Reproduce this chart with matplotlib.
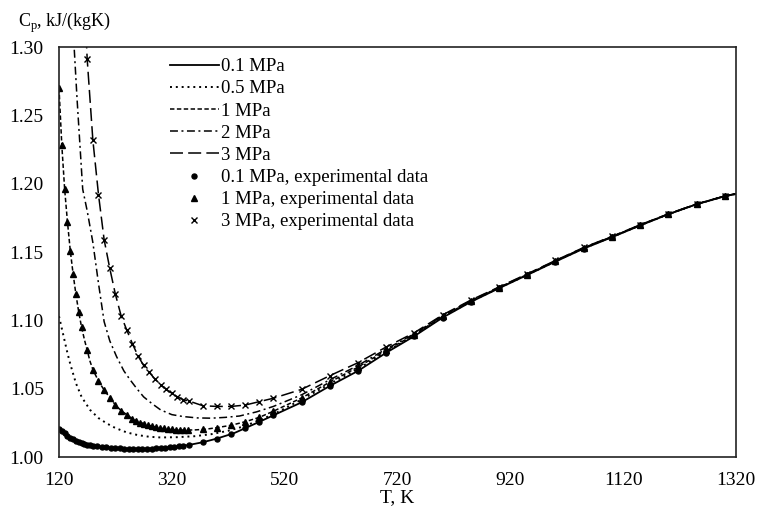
import matplotlib
matplotlib.use("Agg")
import matplotlib.pyplot as plt

plt.rcParams['font.family'] = ['Liberation Serif', 'DejaVu Serif']
plt.rcParams['mathtext.fontset'] = 'custom'
plt.rcParams['mathtext.rm'] = 'Liberation Serif'

# calculated curves, T in K, Cp in kJ/(kgK)
t_01 = [120, 130, 140, 150, 160, 175, 190, 210, 230, 250, 270, 290, 310, 330, 350,
        375, 400, 430, 475, 500, 550, 600, 650, 700, 750, 800, 850, 900, 950, 1000,
        1050, 1100, 1150, 1200, 1250, 1300, 1320]
cp_01 = [1.0203, 1.0172, 1.0142, 1.0118, 1.0100, 1.0085, 1.0076, 1.0068, 1.0063, 1.0060,
         1.0060, 1.0063, 1.0069, 1.0077, 1.0088, 1.0108, 1.0135, 1.0174, 1.0257, 1.0305,
         1.0400, 1.0520, 1.0630, 1.0763, 1.0885, 1.1020, 1.1135, 1.1235, 1.1332, 1.1430,
         1.1525, 1.1608, 1.1694, 1.1776, 1.1849, 1.1908, 1.1925]

t_05 = [120, 125, 130, 135, 140, 150, 160, 175, 190, 205, 220, 240, 260, 280, 300, 330,
        360, 390, 420, 450, 500, 550, 600, 650, 700, 750, 800, 850, 900, 950, 1000, 1050,
        1100, 1150, 1200, 1250, 1300, 1320]
cp_05 = [1.103, 1.094, 1.085, 1.076, 1.068, 1.054, 1.044, 1.0345, 1.0285, 1.0245, 1.0212,
         1.0180, 1.0160, 1.0148, 1.0143, 1.0145, 1.0152, 1.0167, 1.0192, 1.0227, 1.0312,
         1.0420, 1.0535, 1.0645, 1.0770, 1.0890, 1.1025, 1.1138, 1.1237, 1.1333, 1.1432,
         1.1527, 1.1609, 1.1695, 1.1776, 1.1849, 1.1908, 1.1925]

t_1 = [120, 125, 130, 135, 140, 145, 150, 155, 160, 165, 170, 175, 180, 190, 200, 210,
       220, 230, 240, 250, 260, 270, 280, 290, 300, 320, 340, 360, 380, 400, 425, 450,
       475, 500, 550, 600, 650, 700, 750, 800, 850, 900, 950, 1000, 1050, 1100, 1150,
       1200, 1250, 1300, 1320]
cp_1 = [1.270, 1.228, 1.196, 1.172, 1.151, 1.134, 1.119, 1.106, 1.095, 1.086, 1.078,
        1.070, 1.064, 1.0555, 1.049, 1.0435, 1.038, 1.034, 1.031, 1.028, 1.026, 1.0245,
        1.023, 1.022, 1.021, 1.0200, 1.0197, 1.0198, 1.0203, 1.0215, 1.0232, 1.0258,
        1.0290, 1.0335, 1.0432, 1.0548, 1.0658, 1.0780, 1.0895, 1.1030, 1.1141, 1.1239,
        1.1335, 1.1434, 1.1529, 1.1610, 1.1696, 1.1777, 1.1850, 1.1909, 1.1926]

t_2 = [140, 146, 152, 162, 170, 180, 190, 200, 210, 222, 235, 246, 258, 270, 285, 300,
       320, 340, 365, 390, 415, 440, 470, 500, 550, 600, 650, 700, 750, 800, 850, 900,
       950, 1000, 1050, 1100, 1150, 1200, 1250, 1300, 1320]
cp_2 = [1.345, 1.306, 1.262, 1.196, 1.180, 1.157, 1.127, 1.099, 1.085, 1.0735, 1.063,
        1.0565, 1.050, 1.044, 1.039, 1.0345, 1.031, 1.0296, 1.0286, 1.0284, 1.0290,
        1.0300, 1.0330, 1.0370, 1.0455, 1.0565, 1.0670, 1.0790, 1.0902, 1.1035, 1.1144,
        1.1241, 1.1337, 1.1436, 1.1531, 1.1612, 1.1697, 1.1778, 1.1850, 1.1909, 1.1926]

t_3 = [165, 170, 180, 190, 200, 210, 220, 230, 240, 250, 260, 270, 280, 290, 300, 310,
       320, 330, 340, 350, 375, 400, 425, 450, 475, 500, 550, 600, 650, 700, 750, 800,
       850, 900, 950, 1000, 1050, 1100, 1150, 1200, 1250, 1300, 1320]
cp_3 = [1.335, 1.291, 1.232, 1.192, 1.159, 1.138, 1.119, 1.1035, 1.093, 1.083, 1.074,
        1.067, 1.062, 1.057, 1.053, 1.0495, 1.0465, 1.044, 1.042, 1.041, 1.0375, 1.037,
        1.037, 1.038, 1.0405, 1.043, 1.0495, 1.0595, 1.069, 1.0805, 1.0910, 1.1040,
        1.1148, 1.1244, 1.1340, 1.1438, 1.1533, 1.1614, 1.1699, 1.1779, 1.1851, 1.1910,
        1.1927]

# experimental data
t_ex01 = [120, 125, 130, 135, 140, 145, 150, 155, 160, 165, 170, 175, 180, 188, 196, 204,
          212, 220, 228, 236, 244, 252, 260, 268, 276, 284, 292, 300, 308, 316, 324, 332,
          340, 350, 375, 400, 425, 450, 475, 500, 550, 600, 650, 700, 750, 800, 850, 900,
          950, 1000, 1050, 1100, 1150, 1200, 1250, 1300]
cp_ex01 = [1.0203, 1.0187, 1.0172, 1.0157, 1.0142, 1.0130, 1.0118, 1.0109, 1.0100, 1.0094,
           1.0090, 1.0085, 1.0081, 1.0077, 1.0073, 1.0070, 1.0068, 1.0066, 1.0064, 1.0062,
           1.0061, 1.0060, 1.0060, 1.0060, 1.0061, 1.0062, 1.0063, 1.0065, 1.0068, 1.0071,
           1.0074, 1.0077, 1.0081, 1.0088, 1.0108, 1.0135, 1.0168, 1.0212, 1.0257, 1.0305,
           1.0400, 1.0520, 1.0630, 1.0763, 1.0885, 1.1020, 1.1135, 1.1235, 1.1332, 1.1430,
           1.1525, 1.1608, 1.1694, 1.1776, 1.1849, 1.1908]

t_ex1 = [120, 125, 130, 135, 140, 145, 150, 155, 160, 170, 180, 190, 200, 210, 220, 230,
         240, 250, 257, 264, 271, 278, 285, 292, 299, 306, 313, 320, 327, 334, 341, 348,
         375, 400, 425, 450, 475, 500, 550, 600, 650, 700, 750, 800, 850, 900, 950, 1000,
         1050, 1100, 1150, 1200, 1250, 1300]
cp_ex1 = [1.270, 1.228, 1.196, 1.172, 1.151, 1.134, 1.119, 1.106, 1.095, 1.078, 1.064,
          1.0555, 1.049, 1.0435, 1.038, 1.034, 1.031, 1.028, 1.0265, 1.0252, 1.0242,
          1.0234, 1.0227, 1.0221, 1.0215, 1.0211, 1.0207, 1.0203, 1.0200, 1.0198, 1.0197,
          1.0197, 1.0205, 1.0215, 1.0232, 1.0258, 1.0290, 1.0335, 1.0432, 1.0548, 1.0658,
          1.0780, 1.0895, 1.1030, 1.1141, 1.1239, 1.1335, 1.1434, 1.1529, 1.1610, 1.1696,
          1.1777, 1.1850, 1.1909]

t_ex3 = [170, 180, 190, 200, 210, 220, 230, 240, 250, 260, 270, 280, 290, 300, 310, 320,
         330, 340, 350, 375, 400, 425, 450, 475, 500, 550, 600, 650, 700, 750, 800, 850,
         900, 950, 1000, 1050, 1100, 1150, 1200, 1250, 1300]
cp_ex3 = [1.291, 1.232, 1.192, 1.159, 1.138, 1.119, 1.1035, 1.093, 1.083, 1.074, 1.067,
          1.062, 1.057, 1.053, 1.0495, 1.0465, 1.044, 1.042, 1.041, 1.0375, 1.037, 1.037,
          1.038, 1.0405, 1.043, 1.0495, 1.0595, 1.069, 1.0805, 1.0910, 1.1040, 1.1148,
          1.1244, 1.1340, 1.1438, 1.1533, 1.1614, 1.1699, 1.1779, 1.1851, 1.1910]

fig = plt.figure(figsize=(7.57, 5.08), dpi=100)
ax = fig.add_axes([59 / 757, 1 - 457 / 508, 677 / 757, 410 / 508])

k = 'black'
ax.plot(t_01, cp_01, color=k, lw=1.3, label='0.1 MPa')
ax.plot(t_05, cp_05, color=k, lw=1.4, linestyle=(0, (1, 2)), label='0.5 MPa')
ax.plot(t_1, cp_1, color=k, lw=1.1, linestyle=(0, (2.9, 1.6)), label='1 MPa')
ax.plot(t_2, cp_2, color=k, lw=1.1, linestyle=(0, (5.2, 2.3, 1.3, 2.3)), label='2 MPa')
ax.plot(t_3, cp_3, color=k, lw=1.1, linestyle=(0, (8.5, 3.4)), label='3 MPa')
ax.plot(t_ex01, cp_ex01, 'o', color=k, ms=3.6, linestyle='none',
        label='0.1 MPa, experimental data')
ax.plot(t_ex1, cp_ex1, '^', color=k, ms=4.5, linestyle='none',
        label='1 MPa, experimental data')
ax.plot(t_ex3, cp_ex3, 'x', color=k, ms=4.2, mew=1.0, linestyle='none',
        label='3 MPa, experimental data')

ax.set_xlim(120, 1320)
ax.set_ylim(1.00, 1.30)
ax.set_xticks([120, 320, 520, 720, 920, 1120, 1320])
ax.set_yticks([1.00, 1.05, 1.10, 1.15, 1.20, 1.25, 1.30])
ax.set_yticklabels(['1.00', '1.05', '1.10', '1.15', '1.20', '1.25', '1.30'])
ax.tick_params(length=0, labelsize=14, pad=11)
for s in ax.spines.values():
    s.set_linewidth(1.2)
    s.set_color('#222222')

ax.set_xlabel('T, K', fontsize=14, labelpad=0)
fig.text(18 / 757, 1 - 23 / 508, r'C$_\mathregular{p}$, kJ/(kgK)', fontsize=13,
         ha='left', va='center')

ax.legend(loc='upper left', bbox_to_anchor=(170 / 757, 1 - 58 / 508),
          bbox_transform=fig.transFigure, frameon=False, fontsize=13.5,
          borderpad=0, borderaxespad=0, handlelength=2.6, handletextpad=0.1,
          labelspacing=0.27)

fig.savefig('out.png', dpi=100)
